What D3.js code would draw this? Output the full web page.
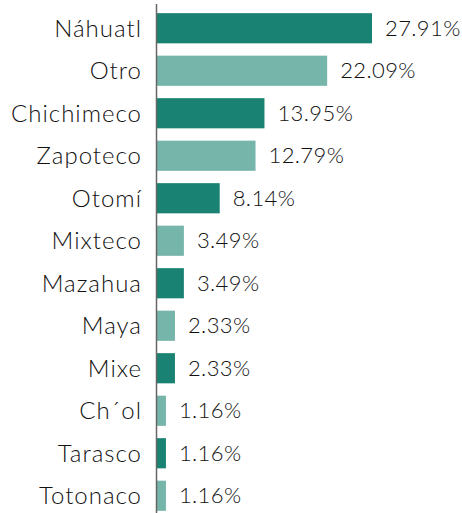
<!DOCTYPE html>
<html>
<head>
<meta charset="utf-8">
<script src="https://cdn.jsdelivr.net/npm/d3@7"></script>
<style>
  body { margin: 0; background: #fff; }
  text { font-family: Lato, "Open Sans", sans-serif; font-weight: 300; fill: #111; }
</style>
</head>
<body>
<div id="chart"></div>
<script>
const categories = ["Náhuatl", "Otro", "Chichimeco", "Zapoteco", "Otomí", "Mixteco",
  "Mazahua", "Maya", "Mixe", "Ch´ol", "Tarasco", "Totonaco"];
const values = [27.91, 22.09, 13.95, 12.79, 8.14, 3.49, 3.49, 2.33, 2.33, 1.16, 1.16, 1.16];
const colors = ["#1a8272", "#76b5aa"];

const width = 462, height = 513;
const margin = {left: 157, top: 7, bottom: -4};

const rows = categories.map((c, i) => ({label: c, value: values[i], i: i}));

const svg = d3.select("#chart").append("svg")
  .attr("width", width)
  .attr("height", height);

const y = d3.scaleBand()
  .domain(categories)
  .range([margin.top, height - margin.bottom])
  .paddingInner(0.29)
  .paddingOuter(0.145);

const x = d3.scaleLinear()
  .domain([0, 27.91])
  .range([margin.left, 372]);

svg.selectAll("rect.bar")
  .data(rows)
  .join("rect")
  .attr("class", "bar")
  .attr("x", x(0))
  .attr("y", d => y(d.label))
  .attr("width", d => x(d.value) - x(0))
  .attr("height", y.bandwidth())
  .attr("fill", d => colors[d.i % 2]);

// axis line
svg.append("line")
  .attr("x1", margin.left - 0.5).attr("x2", margin.left - 0.5)
  .attr("y1", 4).attr("y2", height)
  .attr("stroke", "#666").attr("stroke-width", 1.5);

svg.selectAll("text.cat")
  .data(rows)
  .join("text")
  .attr("class", "cat")
  .attr("x", 142)
  .attr("y", d => y(d.label) + y.bandwidth() / 2)
  .attr("dy", "0.35em")
  .attr("text-anchor", "end")
  .style("font-size", "24px")
  .style("letter-spacing", "1px")
  .text(d => d.label);

svg.selectAll("text.val")
  .data(rows)
  .join("text")
  .attr("class", "val")
  .attr("x", d => x(d.value) + 13)
  .attr("y", d => y(d.label) + y.bandwidth() / 2)
  .attr("dy", "0.35em")
  .style("font-size", "22px")
  .style("letter-spacing", "0.4px")
  .text(d => d.value.toFixed(2) + "%");
</script>
</body>
</html>
